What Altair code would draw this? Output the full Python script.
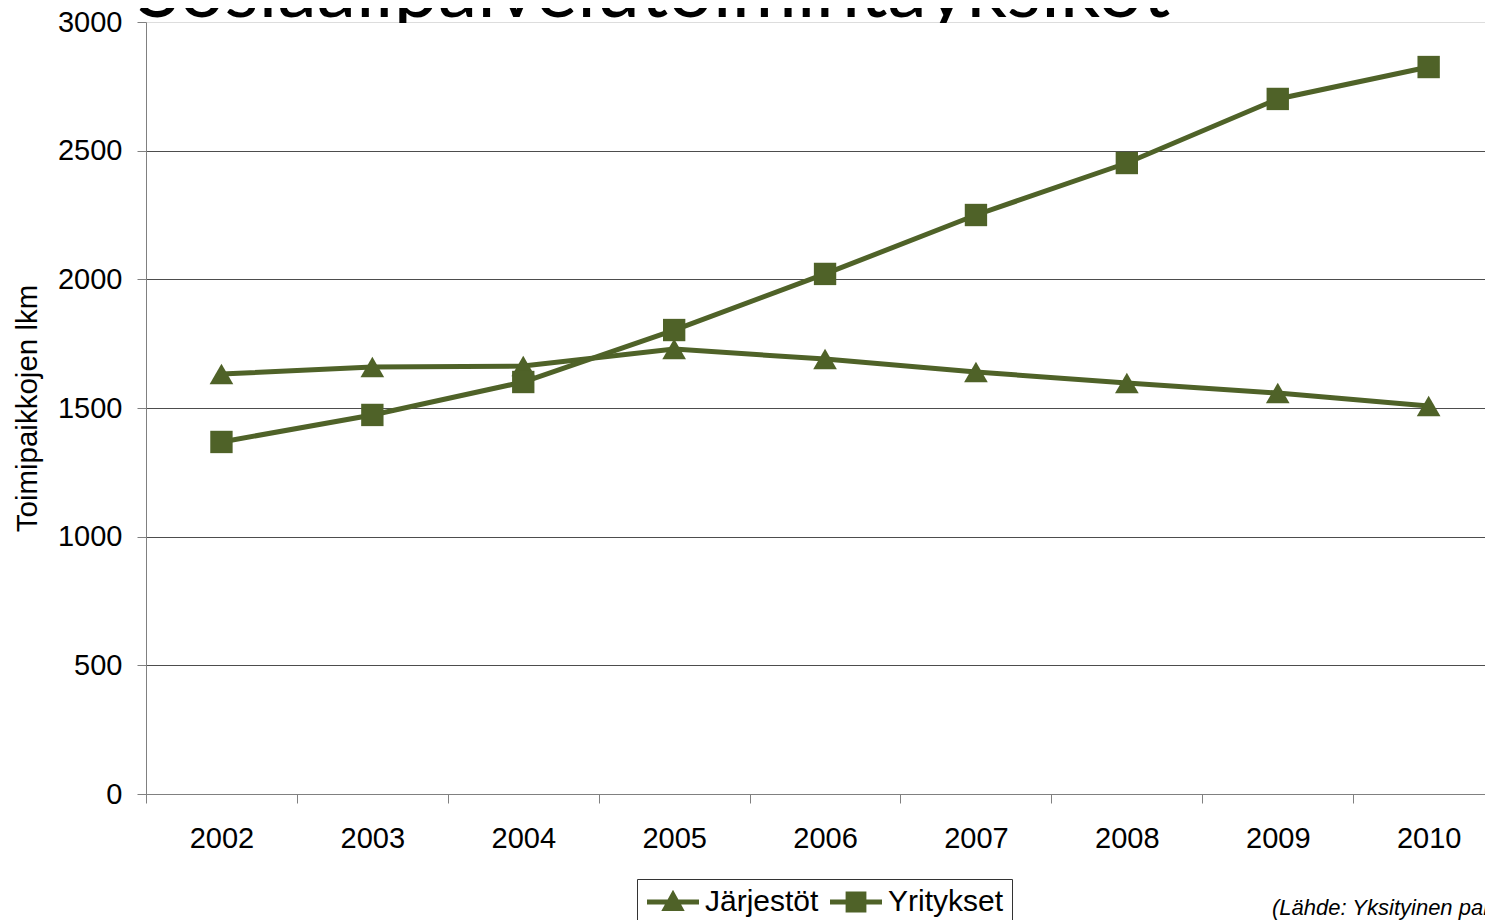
import altair as alt
import pandas as pd

years = [2002, 2003, 2004, 2005, 2006, 2007, 2008, 2009, 2010]
jarjestot = [1632, 1659, 1663, 1729, 1690, 1640, 1597, 1558, 1508]
yritykset = [1368, 1473, 1601, 1803, 2021, 2250, 2452, 2701, 2825]
series_names = ["Järjestöt", "Yritykset"]
y_ticks = [0, 500, 1000, 1500, 2000, 2500, 3000]
title_text = "Sosiaalipalvelutoimintayksikot"
y_title = "Toimipaikkojen lkm"
source_text = "(Lähde: Yksityinen palvelutuotanto)"

OLIVE = "#4F6228"
GRAY = "#808080"
FONT = "Liberation Sans"
W, H = 1339, 772
STEP = 150.9
x_min = years[0] - 0.5
x_max = x_min + W / STEP

df = pd.DataFrame({
    "year": years * 2,
    "value": jarjestot + yritykset,
    "series": [series_names[0]] * len(years) + [series_names[1]] * len(years),
})

xscale = alt.Scale(domain=[x_min, x_max], nice=False, zero=False)
yscale = alt.Scale(domain=[0, 3000], nice=False, zero=True)

x_axis = alt.Axis(
    values=[y - 0.5 for y in years],
    labelExpr="format(datum.value + 0.5, 'd')",
    labelOffset=STEP / 2,
    labelFlush=False,
    labelOverlap=False,
    tickSize=9, tickColor=GRAY, domainColor=GRAY,
    labelPadding=21, labelFontSize=29, labelFont=FONT, labelColor="black",
    grid=False, title=None,
)
y_axis = alt.Axis(
    values=y_ticks, format="d",
    tickSize=9, tickColor=GRAY, domainColor=GRAY,
    grid=True,
    gridColor={"condition": {"test": "datum.value === 3000", "value": "#dddddd"}, "value": "#4d4d4d"},
    labelPadding=15, labelFontSize=29, labelFont=FONT, labelColor="black",
    title=y_title, titleFont=FONT, titleFontSize=29.5, titleFontWeight="normal",
    titleColor="black", titleAngle=270, titleX=-119, titleY=H / 2,
    titleAlign="center", titleBaseline="middle",
)

base = alt.Chart(df)

lines = base.mark_line(color=OLIVE, strokeWidth=5).encode(
    x=alt.X("year:Q", scale=xscale, axis=x_axis),
    y=alt.Y("value:Q", scale=yscale, axis=y_axis),
    detail="series:N",
)
tri = base.transform_filter(alt.datum.series == series_names[0]).mark_point(
    shape="triangle-up", filled=True, opacity=1, color=OLIVE, size=560
).encode(x="year:Q", y="value:Q")
sq = base.transform_filter(alt.datum.series == series_names[1]).mark_point(
    shape="square", filled=True, opacity=1, color=OLIVE, size=500
).encode(x="year:Q", y="value:Q")

tri_path = "M-1,-0.2H3V0.2H-1Z M1,-0.95L1.9,0.7L0.1,0.7Z"
sq_path = "M-1,-0.2H3V0.2H-1Z M0.2,-0.8H1.8V0.8H0.2Z"

ghost = base.transform_filter(alt.datum.year < 0).mark_point(
    filled=True, opacity=1, color=OLIVE
).encode(
    x="year:Q", y="value:Q",
    shape=alt.Shape(
        "series:N",
        scale=alt.Scale(domain=series_names, range=[tri_path, sq_path]),
        legend=alt.Legend(
            orient="none", legendX=491, legendY=857, direction="horizontal",
            title=None, symbolSize=676, symbolStrokeWidth=0,
            symbolFillColor=OLIVE, symbolOpacity=1,
            labelFont=FONT, labelFontSize=30, labelColor="black",
            labelOffset=30, columnPadding=9, padding=8,
            strokeColor="#333333", fillColor="white",
        ),
    ),
)

title_df = pd.DataFrame({"t": [title_text]})
title = alt.Chart(title_df).mark_text(
    align="left", baseline="alphabetic", font="Lato", fontSize=79, color="black"
).encode(text="t:N", x=alt.value(-9), y=alt.value(-5))

mask = alt.Chart(title_df).mark_rect(color="white").encode(
    x=alt.value(1), x2=alt.value(W), y=alt.value(1), y2=alt.value(18)
)

src_df = pd.DataFrame({"t": [source_text]})
source = alt.Chart(src_df).mark_text(
    align="left", baseline="alphabetic", font=FONT, fontSize=22,
    fontStyle="italic", color="black"
).encode(text="t:N", x=alt.value(1126), y=alt.value(893))

chart = alt.layer(title, mask, lines, tri, sq, ghost, source).properties(
    width=W, height=H,
    padding={"left": 138, "top": 14, "right": 0, "bottom": 126},
    autosize=alt.AutoSizeParams(type="none"),
    background="white",
).configure_view(stroke=None)

chart.save("out.html", embed_options={"renderer": "svg", "actions": False})
